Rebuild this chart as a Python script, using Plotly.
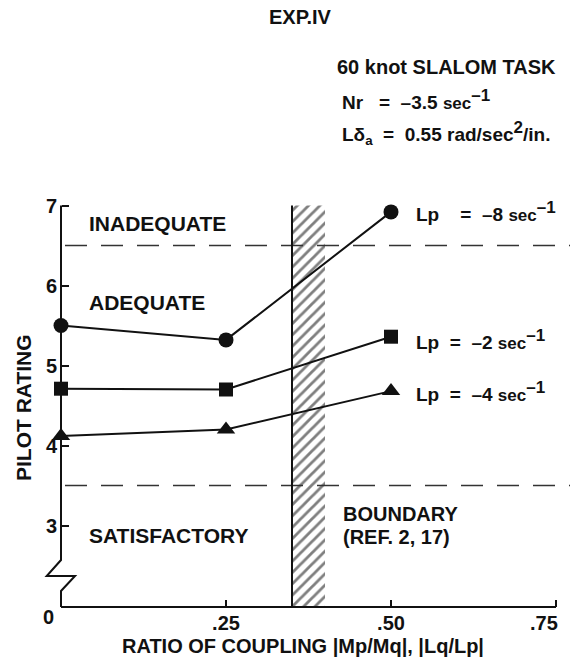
import plotly.graph_objects as go

# Pilot ratings versus coupling ratio for three roll-damping values (Lp)
coupling = [0.0, 0.25, 0.50]
rating_lp8 = [5.50, 5.32, 6.92]
rating_lp2 = [4.71, 4.70, 5.36]
rating_lp4 = [4.12, 4.20, 4.68]

series_ratings = [rating_lp8, rating_lp2, rating_lp4]
series_symbols = ["circle", "square", "triangle-up"]
series_sizes = [15, 14, 16]
series_lp = ["–8", "–2", "–4"]
series_gaps = ["\u00a0\u00a0\u00a0\u00a0=\u00a0\u00a0", "\u00a0\u00a0=\u00a0\u00a0", "\u00a0\u00a0=\u00a0\u00a0"]

# Rating-category boundaries and the coupling boundary band (refs. 2, 17)
category_limits = [6.5, 3.5]
category_names = ["INADEQUATE", "ADEQUATE", "SATISFACTORY"]
category_label_y = [6.78, 5.79, 2.88]
boundary_band = [0.35, 0.40]

y_ticks = [3, 4, 5, 6, 7]
x_ticks = [0.25, 0.50, 0.75]
x_tick_text = [".25", ".50", ".75"]

AXIS_FLOOR = 1.98    # rating value where the broken axis meets the x axis
Y_TOP = 7.0
X_END = 0.75

# --- page geometry (pixels) ---
W, H = 576, 661
PL, PR, PT, PB = 30, 576, 190, 620          # plot-area box
X0_PX, X_UNIT = 61.0, 660.0                 # x = 0 position, px per unit
Y7_PX, Y_UNIT = 205.5, 80.0                 # y = 7 position, px per unit

x_range = [(PL - X0_PX) / X_UNIT, (PR - X0_PX) / X_UNIT]
y_range = [7 - (PB - Y7_PX) / Y_UNIT, 7 + (Y7_PX - PT) / Y_UNIT]


def paper_x(px):
    return (px - PL) / (PR - PL)


def paper_y(py):
    return (PB - py) / (PB - PT)


def data_x(px):
    return (px - X0_PX) / X_UNIT


def data_y(py):
    return 7 - (py - Y7_PX) / Y_UNIT


def big_sup(text, size):
    # superscript kept close to full size, as in the printed units
    return f"<sup><span style='font-size:{size}px'>{text}</span></sup>"


def small(text, size):
    return f"<span style='font-size:{size}px'>{text}</span>"


FONT = "Liberation Sans, Arial, Helvetica, sans-serif"
INK = "#111111"

fig = go.Figure()

# Hatched boundary band
fig.add_trace(go.Bar(
    x=[sum(boundary_band) / 2],
    width=[boundary_band[1] - boundary_band[0]],
    base=[AXIS_FLOOR],
    y=[Y_TOP - AXIS_FLOOR],
    marker=dict(
        color="white",
        line=dict(width=0),
        pattern=dict(shape="/", fgcolor="#000000", bgcolor="white", size=8, solidity=0.35),
    ),
    hoverinfo="skip",
    showlegend=False,
))

# Rating curves
for ratings, symbol, size in zip(series_ratings, series_symbols, series_sizes):
    fig.add_trace(go.Scatter(
        x=coupling,
        y=ratings,
        mode="lines+markers",
        line=dict(color=INK, width=2),
        marker=dict(symbol=symbol, size=size, color=INK, line=dict(width=0)),
        cliponaxis=False,
        showlegend=False,
    ))

shapes = []
# Category boundary dashes
for level in category_limits:
    shapes.append(dict(
        type="line", xref="x", yref="y",
        x0=data_x(65), x1=data_x(570), y0=level, y1=level,
        line=dict(color="#333333", width=1.6, dash="22px,14px"),
    ))
# Left edge of the boundary band
shapes.append(dict(
    type="line", xref="x", yref="y",
    x0=boundary_band[0], x1=boundary_band[0], y0=AXIS_FLOOR, y1=Y_TOP,
    line=dict(color=INK, width=2),
))
# Broken rating axis with the zig-zag break
zx_l, zx_r = data_x(46.7), data_x(75)
path = (
    f"M 0,{Y_TOP} L 0,{data_y(560)} L {zx_l},{data_y(576)} "
    f"L {zx_r},{data_y(576)} L 0,{data_y(591)} L 0,{AXIS_FLOOR}"
)
shapes.append(dict(type="path", xref="x", yref="y", path=path,
                   line=dict(color=INK, width=2)))
# Coupling axis line
shapes.append(dict(
    type="line", xref="x", yref="y",
    x0=0, x1=X_END, y0=AXIS_FLOOR, y1=AXIS_FLOOR,
    line=dict(color=INK, width=2),
))

annotations = []


def label(text, x, y, size, xanchor="left", xref="x", yref="y", angle=0):
    annotations.append(dict(
        text=text, x=x, y=y, xref=xref, yref=yref,
        xanchor=xanchor, yanchor="middle", showarrow=False, textangle=angle,
        font=dict(family=FONT, size=size, color=INK, weight="bold"),
    ))


for name, yy in zip(category_names, category_label_y):
    label(name, data_x(87), yy, 21)

label("BOUNDARY", data_x(341), data_y(514), 20)
label("(REF. 2, 17)", data_x(341), data_y(537), 20)

label_y = [data_y(211), data_y(339), data_y(391)]
for lp, gap, yy in zip(series_lp, series_gaps, label_y):
    text = f"Lp{gap}{lp} {small('sec', 17)}{big_sup('–1', 17)}"
    label(text, data_x(414), yy, 19)

label("EXP.IV", paper_x(300), paper_y(17), 20, xanchor="center", xref="paper", yref="paper")
label("60 knot SLALOM TASK", paper_x(335), paper_y(67), 20, xref="paper", yref="paper")
label("Nr\u00a0\u00a0\u00a0=\u00a0\u00a0–3.5 " + small("sec", 17) + big_sup("–1", 17),
      paper_x(340), paper_y(99), 19, xref="paper", yref="paper")
label("Lδ<sub>a</sub>\u00a0\u00a0=\u00a0\u00a00.55 rad/sec" + big_sup("2", 17) + "/in.",
      paper_x(340), paper_y(133), 19, xref="paper", yref="paper")

# Corner zero, end-of-axis tick label (set flush with the axis end), axis titles
label("0", paper_x(48), paper_y(617), 20, xanchor="center", xref="paper", yref="paper")
label(x_tick_text[-1], paper_x(560), paper_y(623), 20, xanchor="right",
      xref="paper", yref="paper")
label("RATIO OF COUPLING |Mp/Mq|, |Lq/Lp|", paper_x(303), paper_y(646), 20,
      xanchor="center", xref="paper", yref="paper")
label("PILOT RATING", paper_x(23), paper_y(408), 21, xanchor="center",
      xref="paper", yref="paper", angle=-90)

fig.update_layout(
    width=W, height=H,
    margin=dict(l=PL, r=W - PR, t=PT, b=H - PB, pad=0),
    paper_bgcolor="white", plot_bgcolor="white",
    font=dict(family=FONT, size=20, color=INK, weight="bold"),
    showlegend=False,
    shapes=shapes,
    annotations=annotations,
    xaxis=dict(
        range=x_range, showgrid=False, zeroline=False, showline=False,
        tickvals=x_ticks, ticktext=x_tick_text[:-1] + [""],
        tickfont=dict(family=FONT, size=20, color=INK, weight="bold"),
        ticks="inside", ticklen=7, tickwidth=2, tickcolor=INK,
        anchor="free", position=(AXIS_FLOOR - y_range[0]) / (y_range[1] - y_range[0]),
        ticklabelstandoff=2,
    ),
    yaxis=dict(
        range=y_range, showgrid=False, zeroline=False, showline=False,
        tickvals=y_ticks,
        tickfont=dict(family=FONT, size=20, color=INK, weight="bold"),
        ticks="inside", ticklen=7, tickwidth=2, tickcolor=INK,
        anchor="free", position=(0 - x_range[0]) / (x_range[1] - x_range[0]),
        ticklabelstandoff=4,
    ),
)

fig.write_html("out.html")
